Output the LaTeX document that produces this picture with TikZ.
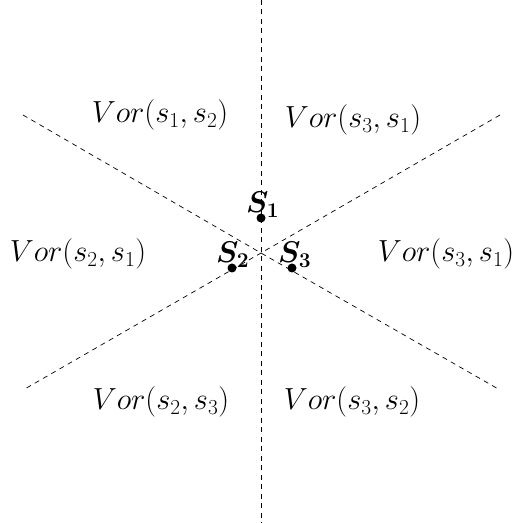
\RequirePackage{fix-cm}
\documentclass[tikz,border=0pt]{standalone}
\usepackage{bm}
\begin{document}
\begin{tikzpicture}[x=1pt,y=1pt,
  bisector/.style={draw=black,dashed,dash pattern=on 5pt off 4.5pt,line width=0.7pt},
  site/.style={circle,fill=black,inner sep=0pt,minimum size=9pt},
  sitelabel/.style={anchor=base west,inner sep=0pt,font=\fontsize{30}{32}\selectfont},
  region/.style={anchor=base,inner sep=0pt,font=\fontsize{30.5}{34}\selectfont}]
\useasboundingbox (0,0) rectangle (518,523);
% centre of the three bisectors and their far ends
\coordinate (c) at (261,270);
\coordinate (top) at (261,523);
\coordinate (bot) at (261,0);
\coordinate (ul) at (23,408);
\coordinate (ur) at (500,408);
\coordinate (ll) at (23,133);
\coordinate (lr) at (500,133);
\draw[bisector] (top) -- (bot);
\draw[bisector] (ul) -- (c) -- (lr);
\draw[bisector] (ur) -- (c) -- (ll);
% sites
\node[site] (s1) at (261,305) {};
\node[site] (s2) at (232,255) {};
\node[site] (s3) at (292,255) {};
\node[sitelabel] (l1) at (246,310) {$\bm{S_1}$};
\node[sitelabel] (l2) at (216,260) {$\bm{S_2}$};
\node[sitelabel] (l3) at (278,260) {$\bm{S_3}$};
% regions
\node[region] (v12) at (160,400) {$Vor(s_1,s_2)$};
\node[region] (v31a) at (353,395) {$Vor(s_3,s_1)$};
\node[region] (v21) at (78,261) {$Vor(s_2,s_1)$};
\node[region] (v31b) at (446,261) {$Vor(s_3,s_1)$};
\node[region] (v23) at (161,113) {$Vor(s_2,s_3)$};
\node[region] (v32) at (352,113) {$Vor(s_3,s_2)$};
\end{tikzpicture}
\end{document}
